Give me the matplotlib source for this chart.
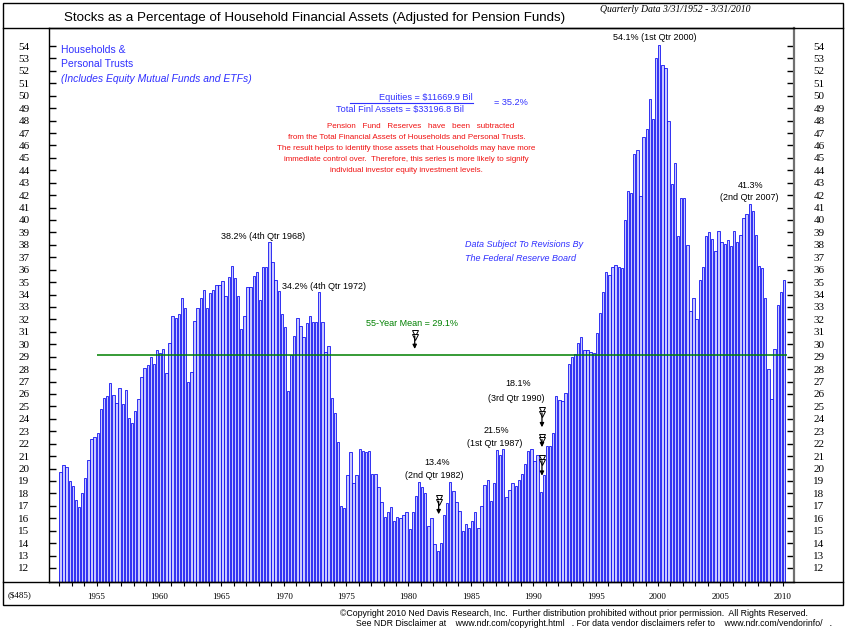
import numpy as np
import matplotlib.pyplot as plt
from matplotlib.patches import Rectangle
from matplotlib.lines import Line2D

plt.rcParams['font.family'] = ['Liberation Sans', 'DejaVu Sans']

# quarterly readings, 1952 Q1 .. 2010 Q1 (percent)
stocks_pct = [
    19.7, 20.3, 20.1, 19.0, 18.6, 17.5, 16.9, 18.0, 19.2, 20.7, 22.4, 22.5,   # 1952-54
    22.9, 24.8, 25.7, 25.8, 26.9, 25.9, 25.3, 26.5, 25.2, 26.3, 24.1, 23.7,   # 1955-57
    24.6, 25.6, 27.4, 28.1, 28.3, 29.0, 28.4, 29.5, 29.3, 29.6, 27.7, 30.1,   # 1958-60
    32.3, 32.1, 32.4, 33.7, 32.9, 27.0, 27.8, 31.9, 32.9, 33.7, 34.4, 32.9,   # 1961-63
    34.1, 34.4, 34.8, 34.8, 35.1, 33.9, 35.4, 36.3, 35.3, 33.9, 31.2, 32.3,   # 1964-66
    34.6, 34.6, 35.5, 35.8, 33.6, 36.2, 36.2, 38.2, 36.6, 35.2, 34.3, 32.4,   # 1967-69
    31.4, 26.2, 29.1, 30.7, 32.1, 31.5, 30.6, 31.7, 32.3, 31.8, 31.8, 34.2,   # 1970-72
    31.8, 29.4, 29.9, 25.7, 24.5, 22.1, 17.0, 16.8, 19.5, 21.3, 18.8, 19.5,   # 1973-75
    21.6, 21.4, 21.3, 21.4, 19.6, 19.6, 18.5, 17.3, 16.1, 16.5, 16.9, 15.8,   # 1976-78
    16.1, 16.0, 16.3, 16.5, 15.1, 16.5, 17.8, 18.9, 18.5, 18.0, 15.4, 16.0,   # 1979-81
    13.9, 13.4, 14.0, 16.3, 17.2, 18.9, 18.2, 17.3, 16.6, 15.0, 15.5, 15.2,   # 1982-84
    15.8, 16.5, 15.2, 17.0, 18.7, 19.1, 17.4, 18.8, 21.5, 21.1, 21.6, 17.7,   # 1985-87
    18.3, 18.8, 18.6, 19.1, 19.6, 20.4, 21.4, 21.6, 20.6, 21.1, 18.1, 19.5,   # 1988-90
    21.8, 21.8, 22.9, 25.8, 25.5, 25.4, 26.1, 28.4, 29.0, 29.2, 30.1, 30.6,   # 1991-93
    29.5, 29.5, 29.4, 29.3, 30.9, 32.5, 34.2, 35.8, 35.6, 36.2, 36.4, 36.2,   # 1994-96
    36.1, 40.0, 42.3, 42.2, 45.3, 45.6, 41.9, 46.7, 47.3, 49.7, 48.1, 53.0,   # 1997-99
    54.1, 52.5, 52.2, 48.0, 42.9, 44.6, 38.7, 41.8, 41.8, 38.0, 32.7, 33.7,   # 2000-02
    32.0, 35.2, 36.2, 38.7, 39.0, 38.5, 37.5, 39.1, 38.2, 38.1, 38.4, 37.9,   # 2003-05
    39.1, 38.2, 38.8, 40.2, 40.5, 41.3, 40.7, 38.8, 36.3, 36.1, 33.7, 28.0,   # 2006-08
    25.6, 29.6, 33.2, 34.2, 35.2,                                             # 2009-10
]
first_year = 1952
mean_pct = 29.1
pct_ticks = list(range(12, 55))
year_labels = list(range(1955, 2011, 5))

quarter_x = first_year + np.arange(len(stocks_pct)) / 4 + 0.1

W, H = 846, 629
fig = plt.figure(figsize=(W / 100, H / 100), dpi=100)
ax = fig.add_axes([49 / W, 1 - 582 / H, (794 - 49) / W, (582 - 28) / H])

ax.bar(quarter_x, stocks_pct, width=0.19, bottom=0, color='#c8c8ff',
       edgecolor='#0000f0', linewidth=0.55)
ax.hlines(mean_pct, 1955, 2010.3, color='#008000', lw=1.1, zorder=3)

ax.set_xlim(1951.19, 2010.9)
ax.set_ylim(10.87, 55.45)

ax.set_yticks(pct_ticks)
ax.set_yticklabels([str(v) for v in pct_ticks])
ax.tick_params(axis='y', direction='in', length=5, width=1, left=True, right=True,
               labelleft=True, labelright=True, pad=14)
for lab in ax.get_yticklabels():
    lab.set_fontfamily('Liberation Serif')
    lab.set_fontsize(8)

ax.set_xticks(year_labels)
ax.set_xticklabels([str(y) for y in year_labels], fontfamily='Liberation Serif', fontsize=6.5)
ax.set_xticks(range(1952, 2011), minor=True)
ax.tick_params(axis='x', which='both', direction='out', length=3, width=0.8, pad=5)

for s in ['top', 'bottom', 'left']:
    ax.spines[s].set_linewidth(1)
ax.spines['right'].set_color('#707070')
ax.spines['right'].set_linewidth(1.6)

# frame around the whole panel
fig.add_artist(Rectangle((3 / W, 1 - 605 / H), 840 / W, 602 / H, transform=fig.transFigure,
                         fill=False, ec='black', lw=1))
for yy in (28, 582):
    fig.add_artist(Line2D([3 / W, 843 / W], [1 - yy / H, 1 - yy / H],
                          transform=fig.transFigure, color='black', lw=1))

fig.text(315 / W, 1 - 18 / H,
         'Stocks as a Percentage of Household Financial Assets (Adjusted for Pension Funds)',
         ha='center', va='center', fontsize=9.6)
fig.text(600 / W, 1 - 10 / H, 'Quarterly Data 3/31/1952 - 3/31/2010', ha='left', va='center',
         fontsize=7, fontstyle='italic', fontfamily='Liberation Serif')
fig.text(20 / W, 1 - 595 / H, '($485)', ha='center', va='center', fontsize=6.5,
         fontfamily='Liberation Serif')
fig.text(808 / W, 1 - 613 / H,
         '\u00a9Copyright 2010 Ned Davis Research, Inc.  Further distribution prohibited '
         'without prior permission.  All Rights Reserved.',
         ha='right', va='center', fontsize=6.3)
fig.text(832 / W, 1 - 623 / H,
         'See NDR Disclaimer at    www.ndr.com/copyright.html   . For data vendor '
         'disclaimers refer to    www.ndr.com/vendorinfo/   .',
         ha='right', va='center', fontsize=6.3)

blue = '#3030ff'
ax.text(1952.19, 53.67, 'Households &', color=blue, fontsize=7.5, va='center')
ax.text(1952.19, 52.55, 'Personal Trusts', color=blue, fontsize=7.5, va='center')
ax.text(1952.19, 51.34, '(Includes Equity Mutual Funds and ETFs)', color=blue, fontsize=7.5,
        va='center', fontstyle='italic')

ax.text(1985.15, 49.89, 'Equities = $11669.9 Bil', color=blue, fontsize=6.6, ha='right',
        va='center')
ax.plot([1975.3, 1985.15], [49.42, 49.42], color=blue, lw=0.8)
ax.text(1979.3, 48.93, 'Total Finl Assets = $33196.8 Bil', color=blue, fontsize=6.6,
        ha='center', va='center')
ax.text(1988.2, 49.45, '= 35.2%', color=blue, fontsize=6.6, ha='center', va='center')

red_lines = ['Pension   Fund   Reserves   have   been   subtracted',
             'from the Total Financial Assets of Households and Personal Trusts.',
             'The result helps to identify those assets that Households may have more',
             'immediate control over.  Therefore, this series is more likely to signify',
             'individual investor equity investment levels.']
red_y = [47.56, 46.67, 45.79, 44.9, 44.02]
for i, (txt, yy) in enumerate(zip(red_lines, red_y)):
    ax.text(1981.0 if i == 0 else 1979.85, yy, txt, color='#f01010', fontsize=5.8,
            ha='center', va='center')

ax.text(1989.3, 37.99, 'Data Subject To Revisions By', color=blue, fontsize=6.5,
        fontstyle='italic', ha='center', va='center')
ax.text(1989.0, 36.94, 'The Federal Reserve Board', color=blue, fontsize=6.5,
        fontstyle='italic', ha='center', va='center')

ax.text(1968.35, 38.65, '38.2% (4th Qtr 1968)', fontsize=6.5, ha='center', va='center')
ax.text(1969.83, 34.63, '34.2% (4th Qtr 1972)', fontsize=6.5, ha='left', va='center')
ax.text(1999.74, 54.65, '54.1% (1st Qtr 2000)', fontsize=6.5, ha='center', va='center')
ax.text(2007.43, 42.81, '41.3%', fontsize=6.5, ha='center', va='center')
ax.text(2007.35, 41.79, '(2nd Qtr 2007)', fontsize=6.5, ha='center', va='center')
ax.text(1980.25, 31.71, '55-Year Mean = 29.1%', color='#008000', fontsize=6.5,
        ha='center', va='center')
ax.text(1982.26, 20.47, '13.4%', fontsize=6.5, ha='center', va='center')
ax.text(1982.08, 19.43, '(2nd Qtr 1982)', fontsize=6.5, ha='center', va='center')
ax.text(1987.03, 23.1, '21.5%', fontsize=6.5, ha='center', va='center')
ax.text(1986.91, 21.98, '(1st Qtr 1987)', fontsize=6.5, ha='center', va='center')
ax.text(1988.83, 26.86, '18.1%', fontsize=6.5, ha='center', va='center')
ax.text(1988.62, 25.65, '(3rd Qtr 1990)', fontsize=6.5, ha='center', va='center')


def down_arrow(x, y_top, y_bot):
    ax.annotate('', xy=(x, y_bot), xytext=(x, y_top),
                arrowprops=dict(arrowstyle='-|>', color='black', lw=0.9, mutation_scale=6))
    ax.plot([x, x], [y_top, y_top - 0.3], ls='none', marker='v', ms=4, mfc='white',
            mec='black', mew=0.7)


down_arrow(1980.5, 30.9, 29.4)
down_arrow(1982.42, 17.6, 16.1)
down_arrow(1990.7, 24.7, 23.1)
down_arrow(1990.7, 22.56, 21.5)
down_arrow(1990.7, 20.85, 19.2)

fig.savefig('out.png', dpi=100)
